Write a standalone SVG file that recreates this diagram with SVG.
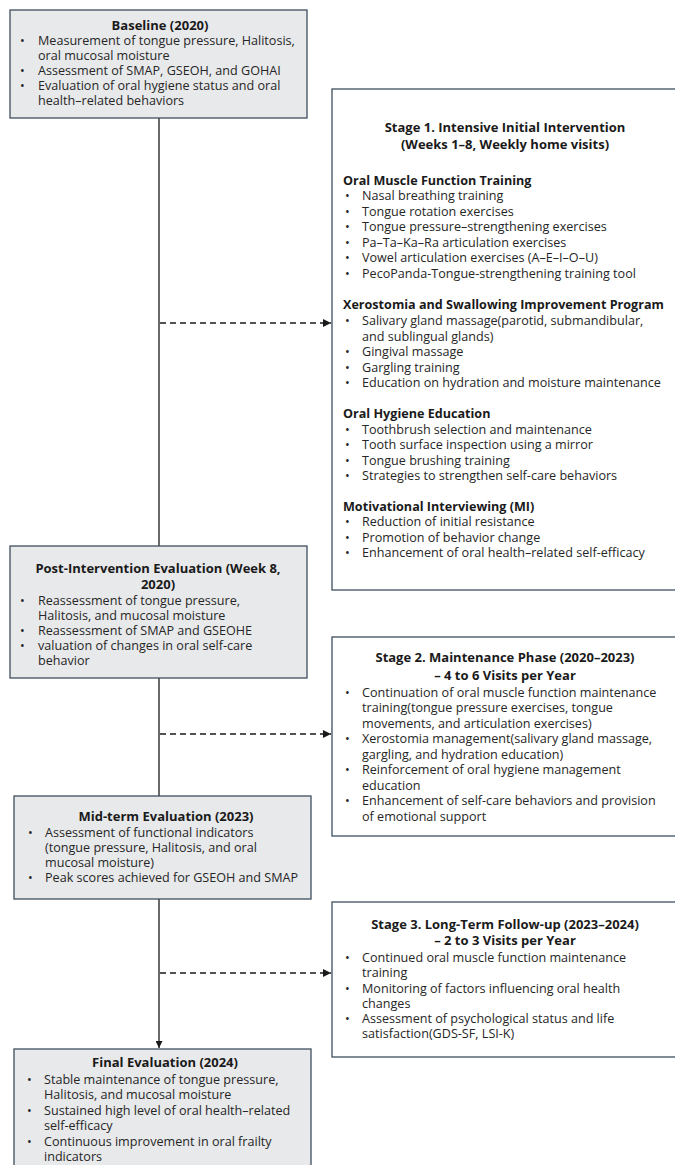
<svg xmlns="http://www.w3.org/2000/svg" width="675" height="1165" viewBox="0 0 675 1165">
<defs>
<style>
.eval{fill:#e8e9eb;stroke:#3e4f5e;stroke-width:1.3}
.stage{fill:#ffffff;stroke:#3e4f5e;stroke-width:1.3}
text{font-family:"Open Sans","Liberation Sans",sans-serif;fill:#262626}
.t{font-size:13px;font-weight:700;text-anchor:middle;fill:#1a1a1a}
.h{font-size:12.6px;font-weight:700;fill:#1a1a1a}
.b{font-size:12.6px}
.solid{stroke:#1a1a1a;stroke-width:1.3;fill:none}
.dash{stroke:#1a1a1a;stroke-width:1.6;fill:none;stroke-dasharray:6 4}
</style>
<marker id="ah" viewBox="0 0 10 10" refX="10" refY="5" markerWidth="7" markerHeight="7" markerUnits="userSpaceOnUse" orient="auto">
<path d="M0,0 L10,5 L0,10 z" fill="#1a1a1a"/>
</marker>
<marker id="ahd" viewBox="0 0 10 10" refX="10" refY="5" markerWidth="8" markerHeight="8" markerUnits="userSpaceOnUse" orient="auto">
<path d="M0,0 L10,5 L0,10 z" fill="#1a1a1a"/>
</marker>
</defs>
<rect width="675" height="1165" fill="#ffffff"/>

<g id="connectors">
<line class="solid" x1="159" y1="118" x2="159" y2="546"/>
<line class="solid" x1="159" y1="678" x2="159" y2="796"/>
<line class="solid" x1="159" y1="899" x2="159" y2="1048" marker-end="url(#ah)"/>
<line class="dash" x1="160" y1="323" x2="331" y2="323" marker-end="url(#ahd)"/>
<line class="dash" x1="160" y1="734" x2="331" y2="734" marker-end="url(#ahd)"/>
<line class="dash" x1="160" y1="973" x2="331" y2="973" marker-end="url(#ahd)"/>
</g>

<g id="baseline">
<rect class="eval" x="10" y="10" width="297" height="108"/>
<text class="t" x="160" y="30">Baseline (2020)</text>
<g class="b">
<text x="20" y="45">•</text><text x="38" y="45">Measurement of tongue pressure, Halitosis,</text>
<text x="38" y="60">oral mucosal moisture</text>
<text x="20" y="75">•</text><text x="38" y="75">Assessment of SMAP, GSEOH, and GOHAI</text>
<text x="20" y="90">•</text><text x="38" y="90">Evaluation of oral hygiene status and oral</text>
<text x="38" y="105">health–related behaviors</text>
</g>
</g>

<g id="stage1">
<rect class="stage" x="332" y="89" width="360" height="501"/>
<text class="t" x="505" y="132">Stage 1. Intensive Initial Intervention</text>
<text class="t" x="505" y="149">(Weeks 1–8, Weekly home visits)</text>
<text class="h" x="343" y="184.5">Oral Muscle Function Training</text>
<g class="b">
<text x="345" y="200">•</text><text x="362" y="200">Nasal breathing training</text>
<text x="345" y="215.5">•</text><text x="362" y="215.5">Tongue rotation exercises</text>
<text x="345" y="231">•</text><text x="362" y="231">Tongue pressure–strengthening exercises</text>
<text x="345" y="246.5">•</text><text x="362" y="246.5">Pa–Ta–Ka–Ra articulation exercises</text>
<text x="345" y="262">•</text><text x="362" y="262">Vowel articulation exercises (A–E–I–O–U)</text>
<text x="345" y="277.5">•</text><text x="362" y="277.5">PecoPanda-Tongue-strengthening training tool</text>
</g>
<text class="h" x="343" y="308.5">Xerostomia and Swallowing Improvement Program</text>
<g class="b">
<text x="345" y="325">•</text><text x="362" y="325">Salivary gland massage(parotid, submandibular,</text>
<text x="362" y="340.5">and sublingual glands)</text>
<text x="345" y="356">•</text><text x="362" y="356">Gingival massage</text>
<text x="345" y="371.5">•</text><text x="362" y="371.5">Gargling training</text>
<text x="345" y="387">•</text><text x="362" y="387">Education on hydration and moisture maintenance</text>
</g>
<text class="h" x="343" y="417.5">Oral Hygiene Education</text>
<g class="b">
<text x="345" y="433.5">•</text><text x="362" y="433.5">Toothbrush selection and maintenance</text>
<text x="345" y="449">•</text><text x="362" y="449">Tooth surface inspection using a mirror</text>
<text x="345" y="464.5">•</text><text x="362" y="464.5">Tongue brushing training</text>
<text x="345" y="480">•</text><text x="362" y="480">Strategies to strengthen self-care behaviors</text>
</g>
<text class="h" x="343" y="510.5">Motivational Interviewing (MI)</text>
<g class="b">
<text x="345" y="526">•</text><text x="362" y="526">Reduction of initial resistance</text>
<text x="345" y="541.5">•</text><text x="362" y="541.5">Promotion of behavior change</text>
<text x="345" y="557">•</text><text x="362" y="557">Enhancement of oral health–related self-efficacy</text>
</g>
</g>

<g id="post-intervention">
<rect class="eval" x="10" y="546" width="297" height="132"/>
<text class="t" x="158" y="573">Post-Intervention Evaluation (Week 8,</text>
<text class="t" x="158" y="589">2020)</text>
<g class="b">
<text x="20" y="604.5">•</text><text x="38" y="604.5">Reassessment of tongue pressure,</text>
<text x="38" y="619.5">Halitosis, and mucosal moisture</text>
<text x="20" y="634.5">•</text><text x="38" y="634.5">Reassessment of SMAP and GSEOHE</text>
<text x="20" y="649.5">•</text><text x="38" y="649.5">valuation of changes in oral self-care</text>
<text x="38" y="664.5">behavior</text>
</g>
</g>

<g id="stage2">
<rect class="stage" x="332" y="637" width="360" height="199"/>
<text class="t" x="505" y="661.5">Stage 2. Maintenance Phase (2020–2023)</text>
<text class="t" x="505" y="679.5">– 4 to 6 Visits per Year</text>
<g class="b">
<text x="345" y="696.5">•</text><text x="362" y="696.5">Continuation of oral muscle function maintenance</text>
<text x="362" y="712">training(tongue pressure exercises, tongue</text>
<text x="362" y="727.5">movements, and articulation exercises)</text>
<text x="345" y="743">•</text><text x="362" y="743">Xerostomia management(salivary gland massage,</text>
<text x="362" y="758.5">gargling, and hydration education)</text>
<text x="345" y="774">•</text><text x="362" y="774">Reinforcement of oral hygiene management</text>
<text x="362" y="789.5">education</text>
<text x="345" y="805">•</text><text x="362" y="805">Enhancement of self-care behaviors and provision</text>
<text x="362" y="820.5">of emotional support</text>
</g>
</g>

<g id="mid-term">
<rect class="eval" x="14" y="796" width="297" height="103"/>
<text class="t" x="166" y="821">Mid-term Evaluation (2023)</text>
<g class="b">
<text x="28" y="837">•</text><text x="45" y="837">Assessment of functional indicators</text>
<text x="45" y="852">(tongue pressure, Halitosis, and oral</text>
<text x="45" y="867">mucosal moisture)</text>
<text x="28" y="882">•</text><text x="45" y="882">Peak scores achieved for GSEOH and SMAP</text>
</g>
</g>

<g id="stage3">
<rect class="stage" x="332" y="902" width="360" height="155"/>
<text class="t" x="505" y="928.5">Stage 3. Long-Term Follow-up (2023–2024)</text>
<text class="t" x="505" y="944.5">– 2 to 3 Visits per Year</text>
<g class="b">
<text x="345" y="961.5">•</text><text x="362" y="961.5">Continued oral muscle function maintenance</text>
<text x="362" y="977">training</text>
<text x="345" y="992.5">•</text><text x="362" y="992.5">Monitoring of factors influencing oral health</text>
<text x="362" y="1007.5">changes</text>
<text x="345" y="1022.5">•</text><text x="362" y="1022.5">Assessment of psychological status and life</text>
<text x="362" y="1037.5">satisfaction(GDS-SF, LSI-K)</text>
</g>
</g>

<g id="final">
<rect class="eval" x="14" y="1049" width="297" height="126"/>
<text class="t" x="165" y="1067">Final Evaluation (2024)</text>
<g class="b">
<text x="27" y="1083.5">•</text><text x="44" y="1083.5">Stable maintenance of tongue pressure,</text>
<text x="44" y="1099">Halitosis, and mucosal moisture</text>
<text x="27" y="1114.5">•</text><text x="44" y="1114.5">Sustained high level of oral health–related</text>
<text x="44" y="1130">self-efficacy</text>
<text x="27" y="1145.5">•</text><text x="44" y="1145.5">Continuous improvement in oral frailty</text>
<text x="44" y="1161">indicators</text>
</g>
</g>
</svg>
